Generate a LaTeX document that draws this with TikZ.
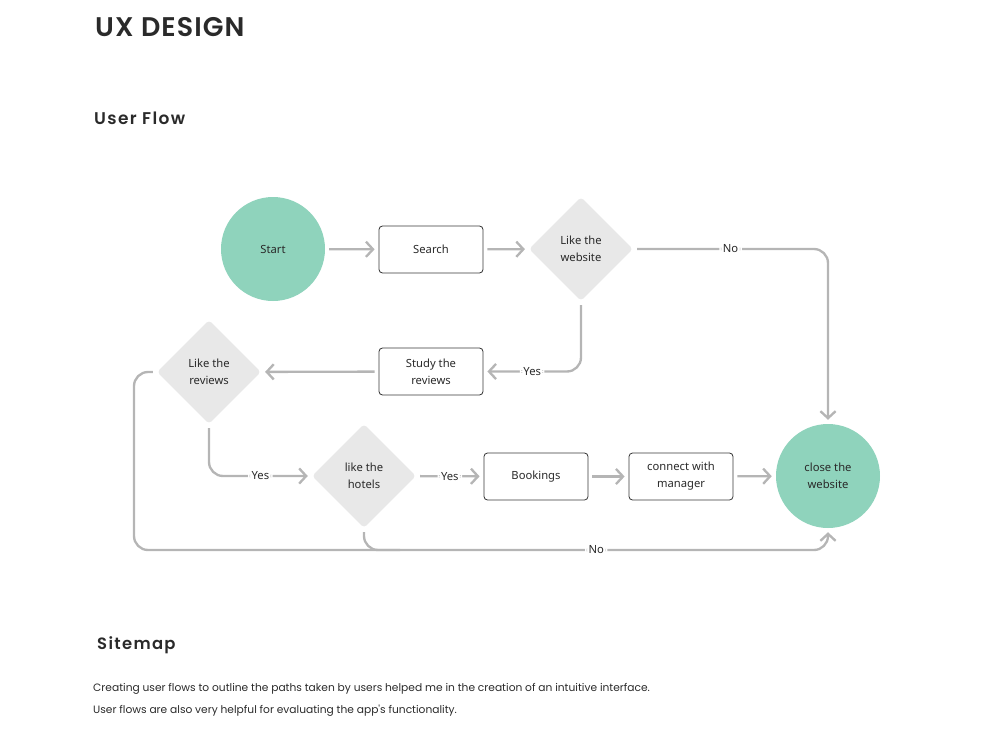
\documentclass[tikz,border=0pt]{standalone}
\usepackage{fontspec}
\setmainfont{Noto Sans}
\newfontfamily\headfont{Poppins}
\newfontfamily\titlefont[LetterSpace=4]{Poppins SemiBold}
\newfontfamily\spacedfont[LetterSpace=8]{Poppins SemiBold}
\usetikzlibrary{arrows.meta,shapes.geometric}
\definecolor{mint}{HTML}{8FD3BC}
\definecolor{diagray}{HTML}{E8E8E8}
\definecolor{boxc}{HTML}{3A3A3A}
\definecolor{linegray}{HTML}{B5B5B5}
\definecolor{txt}{HTML}{2A2A2A}
\tikzset{
  nodefont/.style={font=\fontsize{9.6}{14.6}\selectfont, text=txt},
  term/.style={circle, fill=mint, minimum size=3.12cm, inner sep=0pt, align=center, nodefont},
  proc/.style={rectangle, draw=boxc, line width=0.7pt, rounded corners=3pt, minimum width=3.12cm, minimum height=1.41cm, inner sep=0pt, align=center, nodefont},
  dec/.style={diamond, fill=diagray, minimum width=3.12cm, minimum height=3.12cm, inner sep=0pt, rounded corners=3pt, align=center, nodefont},
  link/.style={draw=linegray, line width=2pt, rounded corners=12pt, shorten <=0.12cm},
  flow/.style={link, -{Straight Barb[length=6pt,width=13pt]}, shorten >=0.12cm},
  lbl/.style={fill=white, inner sep=3pt, nodefont},
}
\begin{document}
\begin{tikzpicture}[x=0.03cm,y=-0.03cm]
\useasboundingbox (0,0) rectangle (1000,750);
% headings
\node[anchor=west, inner sep=0pt, font=\titlefont\fontsize{23}{28}\selectfont, text=txt] (title) at (95,27) {UX DESIGN};
\node[anchor=west, inner sep=0pt, font=\spacedfont\fontsize{14.5}{18}\selectfont, text=txt] (uf) at (94,118) {User Flow};
\node[anchor=west, inner sep=0pt, font=\spacedfont\fontsize{14}{18}\selectfont, text=txt] (sm) at (97,645) {Sitemap};
\node[anchor=north west, inner sep=0pt, align=left, font=\headfont\fontsize{9.1}{18.7}\selectfont, text=txt] (para) at (93,683) {Creating user flows to outline the paths taken by users helped me in the creation of an intuitive interface.\\User flows are also very helpful for evaluating the app's functionality.};
% nodes
\node[term] (start) at (273,249) {Start};
\node[proc] (search) at (431,249.5) {Search};
\node[dec] (web) at (581,249) {Like the\\website};
\node[proc] (study) at (431,371.5) {Study the\\reviews};
\node[dec] (rev) at (209,372) {Like the\\reviews};
\node[dec] (hot) at (364,476) {like the\\hotels};
\node[proc] (book) at (536,476.5) {Bookings};
\node[proc] (conn) at (681,476.5) {connect with\\manager};
\node[term] (close) at (828,476) {close the\\website};
\coordinate (lc) at (134,550);
\coordinate (hb) at (400,550);
% connectors
\draw[flow] (start) -- (search);
\draw[flow] (search) -- (web);
\draw[flow] (web.east) -- node[lbl]{No} (web.east -| close.north) -- (close.north);
\draw[flow] (web.south) -- (web.south |- study.east) -- node[lbl]{Yes} (study.east);
\draw[flow] (study) -- (rev);
\draw[flow] (rev.south) -- (rev.south |- hot.west) -- node[lbl]{Yes} (hot.west);
\draw[flow] (hot) -- node[lbl]{Yes} (book);
\draw[flow] (book) -- (conn);
\draw[flow] (conn) -- (close);
\draw[link] (hot.south) |- (hb);
\draw[flow] (rev.west) -| (lc) -- node[lbl, pos=0.666]{No} (close.south |- lc) -- (close.south);
\end{tikzpicture}
\end{document}
